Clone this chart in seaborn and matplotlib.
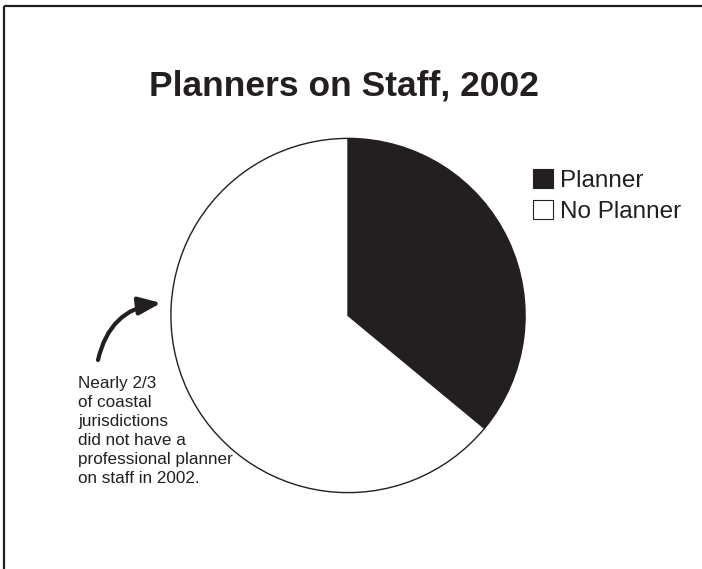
import matplotlib
matplotlib.use("Agg")
import matplotlib.pyplot as plt
import seaborn as sns
from matplotlib.patches import FancyArrowPatch, Patch

sns.set_theme(style="white")
plt.rcParams['font.family'] = ['Liberation Sans', 'DejaVu Sans']

title = "Planners on Staff, 2002"
categories = ["Planner", "No Planner"]
shares = [36, 64]
colors = ["#231f20", "#ffffff"]
note = ("Nearly 2/3\nof coastal\njurisdictions\ndid not have a\n"
        "professional planner\non staff in 2002.")

W, H = 702, 569
fig = plt.figure(figsize=(W / 100, H / 100), dpi=100)
fig.patch.set_facecolor("white")

# overlay axis in pixel coordinates
ov = fig.add_axes([0, 0, 1, 1])
ov.set_xlim(0, W)
ov.set_ylim(H, 0)
ov.axis("off")

# pie axis: radius 178 px, centered at (348, 315.5)
r = 178
cx, cy = 348, 315.5
ax = fig.add_axes([(cx - r) / W, (H - cy - r) / H, 2 * r / W, 2 * r / H])
wedges, _ = ax.pie(shares, colors=colors, startangle=90, counterclock=False,
                   radius=1.0,
                   wedgeprops=dict(edgecolor="#231f20", linewidth=1.0))
ax.set_xlim(-1.005, 1.005)
ax.set_ylim(-1.005, 1.005)
ax.set_aspect("equal")
ax.axis("off")

# frame: top and left lines only
ov.plot([4, W], [6, 6], color="#231f20", lw=1.6, solid_capstyle="butt")
ov.plot([4, 4], [6, H], color="#231f20", lw=1.6, solid_capstyle="butt")

ov.text(344, 86, title, ha="center", va="center", fontsize=25.5,
        fontweight="bold", color="#231f20")

handles = [Patch(facecolor=c, edgecolor="#231f20", linewidth=0.8) for c in colors]
fig.legend(handles, categories, loc="upper left",
           bbox_to_anchor=(533 / W, 1 - 169 / H), frameon=False,
           fontsize=17.5, handlelength=0.82, handleheight=0.82,
           handletextpad=0.3, labelspacing=0.33, borderpad=0, borderaxespad=0,
           labelcolor="#231f20")

ov.text(78, 376, note, ha="left", va="top", fontsize=12.3,
        color="#231f20", linespacing=1.34)

arrow = FancyArrowPatch((98, 360), (161, 303),
                        connectionstyle="arc3,rad=-0.35",
                        arrowstyle="-|>,head_length=0.9,head_width=0.36",
                        color="#231f20", lw=3.0, mutation_scale=15,
                        shrinkA=0, shrinkB=0)
ov.add_patch(arrow)

fig.savefig("out.png", dpi=100, facecolor="white")
